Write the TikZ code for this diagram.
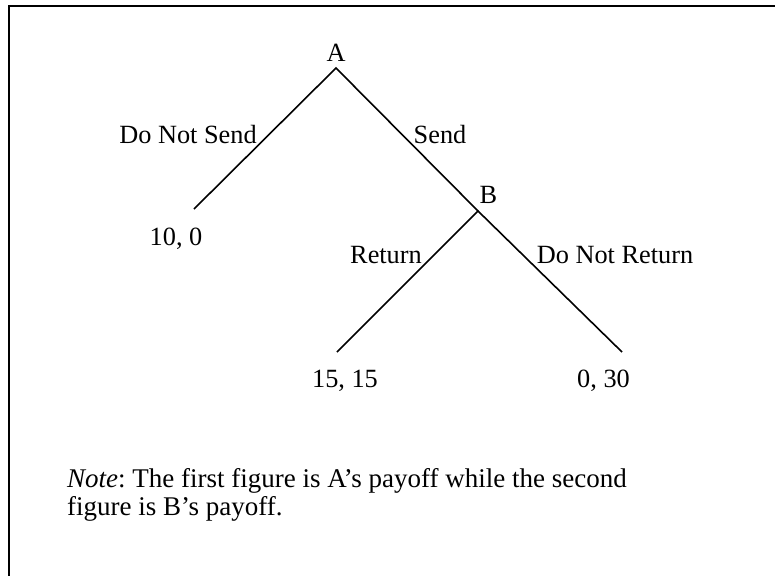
\documentclass[tikz,border=0pt]{standalone}
\usepackage{fontspec}
\setmainfont{Liberation Serif}
\frenchspacing
\begin{document}
\begin{tikzpicture}[x=1pt,y=-1pt,
	lbl/.style={anchor=base,inner sep=0pt,font=\fontsize{26.3}{28}\selectfont},
	branch/.style={line width=1.6pt}]
	\useasboundingbox (0,0) rectangle (775,576);
	\draw[line width=2.2pt] (775,6) -- (9,6) -- (9,576);
	
	% decision points and ends of the branches
	\coordinate (A) at (336,68);
	\coordinate (B) at (478,211);
	\coordinate (endL) at (194,209);
	\coordinate (endR1) at (337,352);
	\coordinate (endR2) at (622,352);
	
	\node[lbl] (labA) at (336,61) {A};
	\node[lbl] (labB) at (488.5,203) {B};
	
	\draw[branch] (endL) -- (A) -- (B);
	\draw[branch] (endR1) -- (B) -- (endR2);
	
	\node[lbl] (dns) at (188,143) {Do Not Send};
	\node[lbl] (send) at (440,143) {Send};
	\node[lbl] (ret) at (386,263) {Return};
	\node[lbl] (dnr) at (615,263) {Do Not Return};
	
	% payoffs
	\node[lbl] (pay1) at (176,245) {10, 0};
	\node[lbl] (pay2) at (345,387) {15, 15};
	\node[lbl] (pay3) at (603.5,387) {0, 30};
	
	% note below the tree (base = last line)
	\node[lbl,anchor=base west,align=left,font=\fontsize{27}{28}\selectfont] (note) at (67,515)
		{\textit{Note}: The first figure is A's payoff while the second\\figure is B's payoff.};
\end{tikzpicture}
\end{document}
